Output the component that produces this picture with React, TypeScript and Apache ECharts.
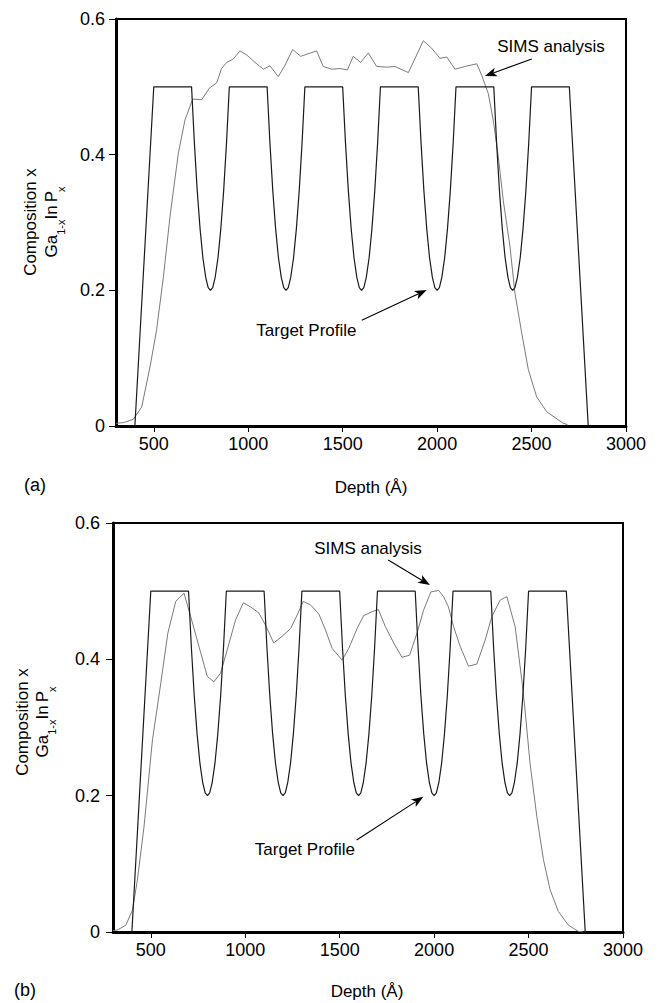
import React, { useEffect, useRef } from "react";
import * as echarts from "echarts";

const depthTicks = [500, 1000, 1500, 2000, 2500, 3000];

// Target profile (depth in Å, composition x)
const targetProfile: [number, number][] = [
  [400, 0], [500, 0.5], [700, 0.5],
  [715, 0.417], [730, 0.347], [745, 0.291], [760, 0.248], [775, 0.219], [788, 0.204], [800, 0.2],
  [812, 0.204], [825, 0.219], [840, 0.248], [855, 0.291], [870, 0.347], [885, 0.417], [900, 0.5],
  [1100, 0.5],
  [1115, 0.417], [1130, 0.347], [1145, 0.291], [1160, 0.248], [1175, 0.219], [1188, 0.204], [1200, 0.2],
  [1212, 0.204], [1225, 0.219], [1240, 0.248], [1255, 0.291], [1270, 0.347], [1285, 0.417], [1300, 0.5],
  [1500, 0.5],
  [1515, 0.417], [1530, 0.347], [1545, 0.291], [1560, 0.248], [1575, 0.219], [1588, 0.204], [1600, 0.2],
  [1612, 0.204], [1625, 0.219], [1640, 0.248], [1655, 0.291], [1670, 0.347], [1685, 0.417], [1700, 0.5],
  [1900, 0.5],
  [1915, 0.417], [1930, 0.347], [1945, 0.291], [1960, 0.248], [1975, 0.219], [1988, 0.204], [2000, 0.2],
  [2012, 0.204], [2025, 0.219], [2040, 0.248], [2055, 0.291], [2070, 0.347], [2085, 0.417], [2100, 0.5],
  [2300, 0.5],
  [2315, 0.417], [2330, 0.347], [2345, 0.291], [2360, 0.248], [2375, 0.219], [2388, 0.204], [2400, 0.2],
  [2412, 0.204], [2425, 0.219], [2440, 0.248], [2455, 0.291], [2470, 0.347], [2485, 0.417], [2500, 0.5],
  [2700, 0.5], [2800, 0],
];

// SIMS analysis, panel (a)
const simsA: [number, number][] = [
  [300, 0.004], [340, 0.005], [392, 0.01], [436, 0.028], [480, 0.087], [515, 0.142], [551, 0.22],
  [586, 0.309], [630, 0.402], [665, 0.451], [706, 0.482], [754, 0.481], [794, 0.498], [833, 0.506],
  [859, 0.527], [886, 0.536], [921, 0.541], [956, 0.553], [992, 0.547], [1036, 0.536], [1080, 0.526],
  [1115, 0.531], [1159, 0.515], [1195, 0.532], [1235, 0.555], [1278, 0.545], [1362, 0.553], [1397, 0.53],
  [1442, 0.526], [1486, 0.527], [1525, 0.525], [1556, 0.545], [1595, 0.536], [1636, 0.55], [1680, 0.53],
  [1733, 0.529], [1777, 0.53], [1848, 0.521], [1927, 0.568], [1971, 0.557], [2015, 0.542], [2051, 0.544],
  [2095, 0.526], [2148, 0.53], [2210, 0.534], [2236, 0.517], [2271, 0.49], [2297, 0.451], [2324, 0.397],
  [2350, 0.333], [2386, 0.264], [2412, 0.196], [2448, 0.137], [2483, 0.083], [2527, 0.043], [2580, 0.021],
  [2668, 0.004], [2690, 0.002],
];

// SIMS analysis, panel (b)
const simsB: [number, number][] = [
  [300, 0.002], [324, 0.003], [368, 0.01], [403, 0.032], [429, 0.076], [464, 0.154], [509, 0.282],
  [553, 0.365], [590, 0.438], [632, 0.485], [676, 0.497], [711, 0.463], [755, 0.419], [799, 0.375],
  [834, 0.367], [870, 0.38], [914, 0.423], [949, 0.458], [990, 0.483], [1028, 0.477], [1072, 0.468],
  [1108, 0.45], [1151, 0.424], [1196, 0.434], [1240, 0.445], [1275, 0.465], [1307, 0.485], [1345, 0.48],
  [1389, 0.467], [1425, 0.443], [1460, 0.416], [1513, 0.399], [1548, 0.416], [1592, 0.445], [1627, 0.464],
  [1672, 0.47], [1705, 0.473], [1742, 0.448], [1786, 0.424], [1830, 0.403], [1870, 0.406], [1909, 0.438],
  [1944, 0.472], [1983, 0.499], [2024, 0.501], [2050, 0.492], [2076, 0.477], [2103, 0.448], [2138, 0.419],
  [2182, 0.39], [2226, 0.393], [2270, 0.428], [2306, 0.463], [2350, 0.487], [2385, 0.492], [2429, 0.448],
  [2464, 0.37], [2480, 0.33], [2508, 0.247], [2544, 0.169], [2579, 0.106], [2614, 0.062], [2658, 0.03],
  [2711, 0.01], [2763, 0.001], [2790, 0],
];

const FONT = "'Liberation Sans', Arial, Helvetica, sans-serif";

// annotation anchors in data coordinates (panel a, panel b)
const annotations = [
  {
    sims: [2603, 0.559], simsFrom: [2501, 0.541], simsTo: [2253, 0.516],
    target: [1308, 0.1415], targetFrom: [1601, 0.156], targetTo: [1945, 0.2005],
  },
  {
    sims: [1650, 0.5633], simsFrom: [1757, 0.5457], simsTo: [1978, 0.509],
    target: [1316, 0.1203], targetFrom: [1590, 0.135], targetTo: [1943, 0.1985],
  },
];

function makeAxes(gi: number) {
  const xBottom = {
    gridIndex: gi, type: "value", min: 300, max: 3000, position: "bottom",
    axisLine: { show: true, onZero: false, lineStyle: { color: "#000", width: 3 } },
    axisTick: { show: true, customValues: depthTicks, length: 6, lineStyle: { color: "#000", width: 1 } },
    axisLabel: {
      show: true, customValues: depthTicks, fontSize: 18, color: "#000", margin: 9, fontFamily: FONT,
      formatter: (v: number) => String(Math.round(v)),
    },
    splitLine: { show: false },
  };
  const xTop = {
    gridIndex: gi, type: "value", min: 300, max: 3000, position: "top",
    axisLine: { show: true, onZero: false, lineStyle: { color: "#000", width: 2 } },
    axisTick: { show: false }, axisLabel: { show: false }, splitLine: { show: false },
  };
  const yLeft = {
    gridIndex: gi, type: "value", min: 0, max: 0.6, interval: 0.2, position: "left",
    axisLine: { show: true, onZero: false, lineStyle: { color: "#000", width: 3 } },
    axisTick: { show: true, length: 7, lineStyle: { color: "#000", width: 1 } },
    axisLabel: {
      show: true, fontSize: 18, color: "#000", margin: gi === 0 ? 11 : 13, fontFamily: FONT,
      formatter: (v: number) => (Math.abs(v) < 1e-9 ? "0" : v.toFixed(1)),
    },
    splitLine: { show: false },
  };
  const yRight = {
    gridIndex: gi, type: "value", min: 0, max: 0.6, position: "right",
    axisLine: { show: true, onZero: false, lineStyle: { color: "#000", width: 2 } },
    axisTick: { show: false }, axisLabel: { show: false }, splitLine: { show: false },
  };
  return { x: [xBottom, xTop], y: [yLeft, yRight] };
}

export default function App() {
  const ref = useRef<HTMLDivElement>(null);
  useEffect(() => {
    document.body.style.margin = "0";
    const chart = echarts.init(ref.current!, undefined, { renderer: "svg" });
    const a0 = makeAxes(0);
    const a1 = makeAxes(1);
    const option: any = {
      animation: false,
      backgroundColor: "#fff",
      grid: [
        { left: 116, top: 19, width: 510, height: 407 },
        { left: 113, top: 523, width: 510, height: 409 },
      ],
      xAxis: [...a0.x, ...a1.x],
      yAxis: [...a0.y, ...a1.y],
      series: [
        { name: "SIMS analysis (a)", type: "line", xAxisIndex: 0, yAxisIndex: 0, data: simsA, symbol: "none", lineStyle: { color: "#7a7a7a", width: 1 }, z: 2 },
        { name: "Target Profile (a)", type: "line", xAxisIndex: 0, yAxisIndex: 0, data: targetProfile, symbol: "none", lineStyle: { color: "#1a1a1a", width: 1.2 }, z: 3 },
        { name: "SIMS analysis (b)", type: "line", xAxisIndex: 2, yAxisIndex: 2, data: simsB, symbol: "none", lineStyle: { color: "#7a7a7a", width: 1 }, z: 2 },
        { name: "Target Profile (b)", type: "line", xAxisIndex: 2, yAxisIndex: 2, data: targetProfile, symbol: "none", lineStyle: { color: "#1a1a1a", width: 1.2 }, z: 3 },
      ],
    };
    chart.setOption(option);

    const ctx = document.createElement("canvas").getContext("2d")!;
    const tw = (t: string, s: number) => {
      ctx.font = `${s}px ${FONT}`;
      return ctx.measureText(t).width;
    };

    const txt = (text: string, x: number, y: number, size = 17, align = "center") => ({
      type: "text", x, y, silent: true,
      style: { text, fontSize: size, fontFamily: FONT, fill: "#000", align, verticalAlign: "middle" },
    });

    const arrow = (from: number[], to: number[]) => {
      const dx = to[0] - from[0], dy = to[1] - from[1];
      const L = Math.hypot(dx, dy);
      const ux = dx / L, uy = dy / L, nx = -uy, ny = ux;
      const hl = 12, hw = 4.5, notch = 9;
      const bx = to[0] - ux * hl, by = to[1] - uy * hl;
      const mx = to[0] - ux * notch, my = to[1] - uy * notch;
      return [
        { type: "line", silent: true, shape: { x1: from[0], y1: from[1], x2: mx, y2: my }, style: { stroke: "#000", lineWidth: 1.1 } },
        {
          type: "polygon", silent: true,
          shape: { points: [[to[0], to[1]], [bx + nx * hw, by + ny * hw], [mx, my], [bx - nx * hw, by - ny * hw]] },
          style: { fill: "#000" },
        },
      ];
    };

    const yTitle = (x1: number, x2: number, cy: number, subDy: number) => {
      const parts = [
        { t: "Ga", s: false, gap: 0 },
        { t: "1-x", s: true, gap: 0 },
        { t: "In", s: false, gap: 3 },
        { t: "P", s: false, gap: -1 },
        { t: "x", s: true, gap: 0 },
      ];
      const widths = parts.map((p) => tw(p.t, p.s ? 11 : 17) + p.gap);
      const W = widths.reduce((a, b) => a + b, 0);
      let cur = -W / 2;
      const children: any[] = [];
      parts.forEach((p, i) => {
        children.push({
          type: "text", x: cur, y: p.s ? subDy : 0, silent: true,
          style: { text: p.t, fontSize: p.s ? 11 : 17, fontFamily: FONT, fill: "#000", align: "left", verticalAlign: "middle" },
        });
        cur += widths[i];
      });
      return [
        { type: "group", x: x1, y: cy, rotation: Math.PI / 2, children: [txt("Composition x", 0, 0, 17)] },
        { type: "group", x: x2, y: cy, rotation: Math.PI / 2, children },
      ];
    };

    const graphics: any[] = [];
    annotations.forEach((an, gi) => {
      const p = (v: number[]) => chart.convertToPixel({ gridIndex: gi }, v) as number[];
      const s = p(an.sims);
      const t = p(an.target);
      graphics.push(txt("SIMS analysis", s[0], s[1]));
      graphics.push(...arrow(p(an.simsFrom), p(an.simsTo)));
      graphics.push(txt("Target Profile", t[0], t[1]));
      graphics.push(...arrow(p(an.targetFrom), p(an.targetTo)));
    });
    graphics.push(...yTitle(30, 51, 222, 10));
    graphics.push(...yTitle(22, 42, 722, 9.5));
    graphics.push(txt("(a)", 35, 485, 18));
    graphics.push(txt("Depth (Å)", 371, 487, 17));
    graphics.push(txt("(b)", 25, 990, 18));
    graphics.push(txt("Depth (Å)", 367, 991, 17));

    chart.setOption({ graphic: graphics });
    return () => chart.dispose();
  }, []);
  return <div ref={ref} style={{ position: "absolute", left: 0, top: 0, width: 659, height: 1003 }} />;
}
